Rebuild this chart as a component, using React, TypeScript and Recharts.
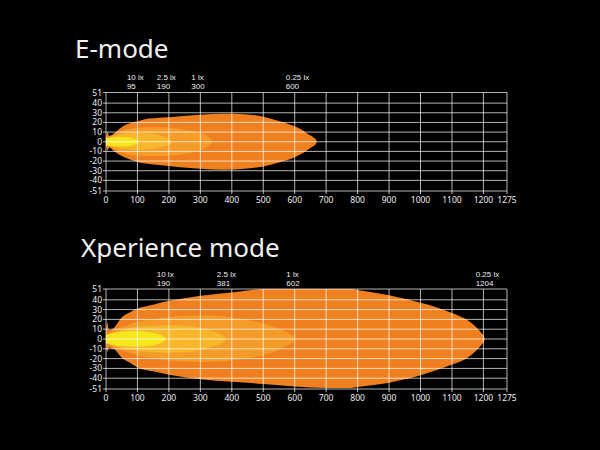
import React from "react";
import { ComposedChart, Area, XAxis, YAxis, CartesianGrid, ReferenceLine } from "recharts";

// ---------- axes ----------
const xTicks = [0, 100, 200, 300, 400, 500, 600, 700, 800, 900, 1000, 1100, 1200, 1275];
const yTicks = [51, 40, 30, 20, 10, 0, -10, -20, -30, -40, -51];

// ---------- E-mode contours: [distance, upper, lower] ----------
const eOuter = [
  [0, 4, -4], [5, 10, -9], [10, 6, -6], [23, 8, -9], [45, 14, -14], [66, 18, -17],
  [100, 21, -21], [137, 24, -23], [200, 25.5, -25], [256, 27, -27], [300, 28, -28],
  [376, 29, -29], [440, 28.5, -28], [500, 26, -25.5], [555, 21, -21], [600, 16, -16],
  [625, 12, -12], [645, 7.5, -7.5], [660, 4.5, -4.5], [668, 2, -2], [670, 0, 0],
];
const eOneLx = [
  [1, 4, -4], [23, 7, -7], [50, 11, -11], [100, 14.5, -14.5], [150, 15, -15],
  [200, 14.5, -14.5], [250, 12.5, -12.5], [300, 9, -9], [320, 6, -6], [332, 3, -3],
  [337, 1.5, -1.5], [338, 0, 0],
];
const eTwoFiveLx = [
  [1, 4, -4], [25, 6, -6], [50, 8, -7.5], [100, 9, -8.5], [150, 8, -7.5],
  [180, 5.5, -5], [200, 3, -3], [208, 1.2, -1.2], [209, 0, 0],
];
const eTenLx = [
  [0, 3.5, -3.5], [20, 4.5, -4.5], [50, 5, -5], [75, 4.3, -4.3], [90, 3, -3],
  [100, 1.5, -1.5], [103.5, 0.6, -0.6], [104, 0, 0],
];
const eLuxNames = ["10 lx", "2.5 lx", "1 lx", "0.25 lx"];
const eLuxDistances = [95, 190, 300, 600];

// ---------- Xperience mode contours ----------
const xOuter = [
  [0, 5, -5], [4, 17, -13], [9, 9, -9], [24, 11, -10], [50, 22, -19], [75, 27, -24],
  [100, 31, -29], [150, 35, -33], [200, 39, -36.5], [250, 41.5, -39], [300, 44, -41],
  [350, 46, -42.5], [400, 47.5, -43.5], [450, 49.5, -44.5], [500, 51, -46], [600, 51, -48.5],
  [700, 51, -50], [780, 51, -50], [800, 50, -49], [900, 44.5, -44.5], [1000, 37, -37],
  [1050, 32.5, -32], [1100, 26.5, -26], [1150, 19, -19], [1180, 11, -11], [1195, 5.5, -5.5],
  [1202, 2.5, -2.5], [1204, 0, 0],
];
const xOneLx = [
  [1, 4, -4], [24, 9, -9], [56, 12.5, -12], [100, 17.5, -16.5], [150, 20, -19.5],
  [200, 22.5, -22], [300, 24, -23.5], [366, 23.5, -23], [400, 22, -21.7], [450, 19.5, -19.5],
  [500, 15.7, -16.5], [556, 9.5, -10], [580, 6, -6], [595, 3, -3], [600.5, 1.5, -1.5],
  [602, 0, 0],
];
const xTwoFiveLx = [
  [1, 4.5, -4.5], [25, 7, -7], [56, 9.5, -9.5], [100, 12.5, -12], [150, 13.5, -13.5],
  [200, 14, -14], [250, 13.5, -13.5], [300, 11.5, -11.5], [340, 8, -8], [365, 4.5, -4.5],
  [378.5, 1.5, -1.5], [380, 0, 0],
];
const xTenLx = [
  [0, 4, -4], [25, 6, -6], [50, 7.5, -7.5], [100, 8, -8], [140, 7, -7], [170, 4.5, -4.5],
  [183, 2.5, -2.5], [189, 1, -1], [190, 0, 0],
];
const xLuxNames = ["10 lx", "2.5 lx", "1 lx", "0.25 lx"];
const xLuxDistances = [190, 381, 602, 1204];

// ---------- styling ----------
const layerKeys = ["outer", "oneLx", "twoFiveLx", "tenLx"];
const layerColors = ["#F0801F", "#F49B28", "#F8B62A", "#F6E71C"];
const FONT = "'Noto Sans', 'Open Sans', sans-serif";
const LABEL_FONT = "'Liberation Sans', Arial, sans-serif";

function buildTable(layers: number[][][]) {
  const xs = Array.from(new Set(layers.flatMap((l) => l.map((p) => p[0])))).sort((a, b) => a - b);
  return xs.map((x) => {
    const row: any = { x };
    layers.forEach((l, i) => {
      const p = l.find((q) => q[0] === x);
      row[layerKeys[i]] = p ? [p[2], p[1]] : null;
    });
    return row;
  });
}

const eRows = buildTable([eOuter, eOneLx, eTwoFiveLx, eTenLx]);
const xRows = buildTable([xOuter, xOneLx, xTwoFiveLx, xTenLx]);

function LuxChart(props: {
  rows: any[];
  names: string[];
  dists: number[];
  height: number;
  margin: { top: number; right: number; bottom: number; left: number };
}) {
  const { rows, names, dists, height, margin } = props;
  const tickStyle = { fill: "#EEEEEE", fontSize: 8.5, fontFamily: FONT };
  return (
    <ComposedChart width={600} height={height} data={rows} margin={margin}>
      <XAxis
        dataKey="x"
        type="number"
        domain={[0, 1275]}
        ticks={xTicks}
        interval={0}
        allowDataOverflow
        axisLine={false}
        tickSize={3}
        tickMargin={3}
        tickLine={{ stroke: "#BBBBBB" }}
        tick={tickStyle}
        height={20}
      />
      <YAxis
        type="number"
        domain={[-51, 51]}
        ticks={yTicks}
        interval={0}
        allowDataOverflow
        axisLine={false}
        tickSize={3}
        tickMargin={1}
        tickLine={{ stroke: "#BBBBBB" }}
        tick={tickStyle}
        width={106}
      />
      {layerKeys.map((k, i) => (
        <Area
          key={k}
          dataKey={k}
          type="monotone"
          fill={layerColors[i]}
          fillOpacity={1}
          stroke="none"
          connectNulls
          dot={false}
          activeDot={false}
          isAnimationActive={false}
        />
      ))}
      <CartesianGrid stroke="#FFFFFF" strokeOpacity={0.7} strokeWidth={1} zIndex={1000} />
      {dists.map((d, i) => (
        <ReferenceLine
          key={"lbl" + i}
          x={d}
          stroke="none"
          label={{
            content: (p: any) => {
              const vb = p.viewBox || {};
              const x0 = (vb.x ?? 0) - 9;
              const y0 = vb.y ?? 0;
              return (
                <g>
                  <text x={x0} y={y0 - 12.5} fill="#EEEEEE" fontSize={8} fontFamily={LABEL_FONT}>
                    {names[i]}
                  </text>
                  <text x={x0} y={y0 - 3.5} fill="#EEEEEE" fontSize={8} fontFamily={LABEL_FONT}>
                    {String(d)}
                  </text>
                </g>
              );
            },
          }}
        />
      ))}
    </ComposedChart>
  );
}

export default function App() {
  const titleStyle: React.CSSProperties = {
    position: "absolute",
    fontFamily: FONT,
    fontSize: 26,
    lineHeight: "26px",
    color: "#F0F0F0",
    whiteSpace: "nowrap",
  };
  return (
    <div
      style={{
        position: "fixed",
        left: 0,
        top: 0,
        width: 600,
        height: 450,
        background: "#000",
        overflow: "hidden",
      }}
    >
      <div style={{ ...titleStyle, left: 75, top: 35 }}>E-mode</div>
      <div style={{ ...titleStyle, left: 81, top: 234 }}>Xperience mode</div>
      <div style={{ position: "absolute", left: 0, top: 0 }}>
        <LuxChart
          rows={eRows}
          names={eLuxNames}
          dists={eLuxDistances}
          height={215}
          margin={{ top: 92.5, right: 93, bottom: 4, left: 0 }}
        />
      </div>
      <div style={{ position: "absolute", left: 0, top: 260 }}>
        <LuxChart
          rows={xRows}
          names={xLuxNames}
          dists={xLuxDistances}
          height={160}
          margin={{ top: 29, right: 93, bottom: 11, left: 0 }}
        />
      </div>
    </div>
  );
}
